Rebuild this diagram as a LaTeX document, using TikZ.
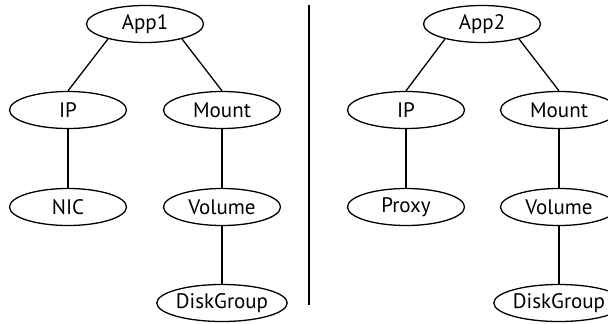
\documentclass[tikz,border=0pt]{standalone}
\usepackage{fontspec}
\setmainfont{PT Sans}
\usepackage{tikz}
\usetikzlibrary{shapes.geometric}
\tikzset{
  res/.style={ellipse,draw,line width=1.3pt,minimum width=117pt,minimum height=37pt,inner sep=0pt,font=\fontsize{21}{23}\selectfont},
  link/.style={line width=1.3pt}
}

\begin{document}
\begin{tikzpicture}[x=1pt,y=-1pt]
\useasboundingbox (0,0) rectangle (608,324);
\clip (0,0) rectangle (608,324);
% First service group
\node[res] (app1) at (145,24) {App1};
\node[res] (ip1) at (68,110) {IP};
\node[res] (mnt1) at (222,110) {Mount};
\node[res] (nic1) at (68,207) {NIC};
\node[res] (vol1) at (222,207) {Volume};
\node[res] (dg1) at (222,303) {DiskGroup};
\draw[link] (app1.202) -- (ip1.north);
\draw[link] (app1.338) -- (mnt1.north);
\draw[link] (ip1) -- (nic1);
\draw[link] (mnt1) -- (vol1);
\draw[link] (vol1) -- (dg1);
% Divider
\draw[link] (309,5) -- (309,305);
% Second service group
\node[res] (app2) at (482,24) {App2};
\node[res] (ip2) at (406,110) {IP};
\node[res] (mnt2) at (559,110) {Mount};
\node[res] (prx2) at (406,207) {Proxy};
\node[res] (vol2) at (559,207) {Volume};
\node[res] (dg2) at (559,303) {DiskGroup};
\draw[link] (app2.202) -- (ip2.north);
\draw[link] (app2.338) -- (mnt2.north);
\draw[link] (ip2) -- (prx2);
\draw[link] (mnt2) -- (vol2);
\draw[link] (vol2) -- (dg2);
\end{tikzpicture}
\end{document}
